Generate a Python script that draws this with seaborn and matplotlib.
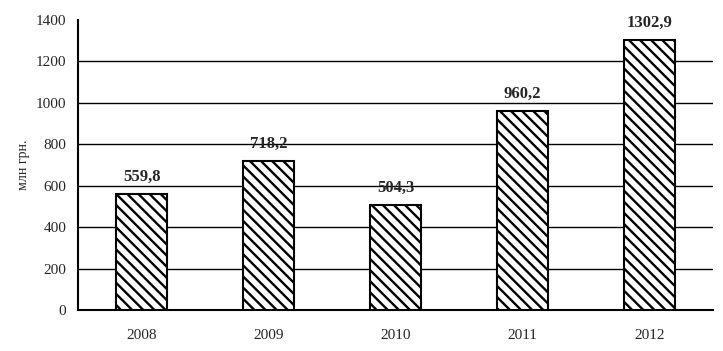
import matplotlib
matplotlib.use('Agg')
import matplotlib.pyplot as plt
import seaborn as sns
import pandas as pd

# 데이터
years = ['2008', '2009', '2010', '2011', '2012']
values = [559.8, 718.2, 504.3, 960.2, 1302.9]
labels = ['559,8', '718,2', '504,3', '960,2', '1302,9']

sns.set_style('white')
plt.rcParams['font.family'] = ['Liberation Serif', 'DejaVu Serif']
plt.rcParams['hatch.linewidth'] = 1.7

df = pd.DataFrame({'year': years, 'value': values})

fig = plt.figure(figsize=(7.23, 3.51), dpi=100)
ax = fig.add_axes([0.108, 0.117, 0.878, 0.826])

sns.barplot(data=df, x='year', y='value', color='white', edgecolor='black',
            linewidth=1.5, width=0.4, ax=ax, zorder=3)
for p in ax.patches:
    p.set_hatch('\\\\\\')

for i, (v, t) in enumerate(zip(values, labels)):
    ax.text(i, v + 45, t, ha='center', va='bottom', fontsize=12, fontweight='bold')

ax.set_ylim(0, 1400)
ax.set_xlim(-0.5, 4.5)
ax.set_yticks(range(0, 1401, 200))
ax.yaxis.grid(True, color='black', linewidth=1.0, zorder=0)
ax.set_axisbelow(True)
# 1400 에는 그리드 없음
ax.yaxis.get_gridlines()[-1].set_visible(False)

# x 틱은 카테고리 경계에
ax.set_xticks([i + 0.5 for i in range(4)], minor=True)
ax.tick_params(axis='x', which='minor', length=5, width=1, direction='out', color='black')
ax.tick_params(axis='x', which='major', length=0, labelsize=11, pad=14)
ax.tick_params(axis='y', length=5, width=1.2, direction='out', color='black', labelsize=11)
ax.set_xlabel('')
ax.set_ylabel('млн грн.', fontsize=10)

for s in ['top', 'right']:
    ax.spines[s].set_visible(False)
for s in ['left', 'bottom']:
    ax.spines[s].set_color('black')
    ax.spines[s].set_linewidth(1.5)

plt.savefig('out.png', dpi=100)
